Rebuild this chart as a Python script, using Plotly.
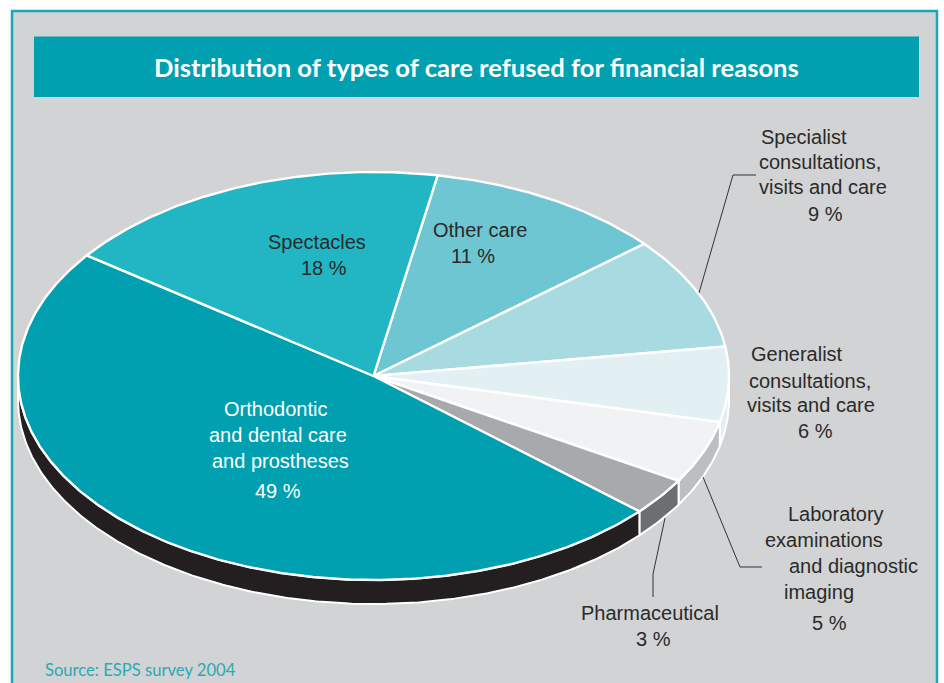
import numpy as np
import plotly.graph_objects as go

# Survey shares, listed clockwise from the "Other care" slice
categories = ["Other care", "Specialist", "Generalist", "Laboratory",
              "Pharmaceutical", "Orthodontic", "Spectacles"]
shares = [11, 9, 6, 5, 3, 49, 18]

top_colors = ["#6EC6D3", "#A8DAE2", "#E2F0F4", "#F1F2F4", "#A7A9AC", "#00A0B0", "#22B5C4"]
side_colors = ["#6EC6D3", "#A8DAE2", "#E2EEF2", "#BCBEC0", "#6D6E71", "#231F20", "#22B5C4"]

# Ellipse geometry of the tilted pie, in pixels
CX, CY, RX, RY = 373.5, 376.0, 355.5, 204.0
DEPTH = 24.0
START_DEG = 79.6
TEAL = "#00A0B0"
INK = "#2B2A29"

fig = go.Figure()


def arc(a0, a1, dy=0.0):
    t = np.radians(np.linspace(a0, a1, max(3, int(abs(a1 - a0) * 2))))
    return CX + RX * np.cos(t), CY - RY * np.sin(t) + dy


def polygon(xs, ys, color, width=2.4):
    fig.add_trace(go.Scatter(
        x=list(xs), y=list(ys), mode="lines", fill="toself", fillcolor=color,
        line=dict(color="white", width=width), hoverinfo="skip", showlegend=False,
    ))


angles = START_DEG - np.cumsum([0] + shares) * 360.0 / sum(shares)

# Side wall: only the part of each slice on the front half of the ellipse shows
for i in range(len(shares)):
    a0, a1 = angles[i], angles[i + 1]
    for lo, hi in ((-180.0, 0.0), (-540.0, -360.0)):
        s0, s1 = min(a0, hi), max(a1, lo)
        if s0 > s1:
            x_up, y_up = arc(s0, s1)
            x_dn, y_dn = arc(s1, s0, DEPTH)
            polygon(np.r_[x_up, x_dn, x_up[0]], np.r_[y_up, y_dn, y_up[0]], side_colors[i], 2.0)

# Top face
for i in range(len(shares)):
    xa, ya = arc(angles[i], angles[i + 1])
    polygon(np.r_[CX, xa, CX], np.r_[CY, ya, CY], top_colors[i])

# Leader lines from the outer labels to their slices
for lx, ly in (([699, 733, 756], [293, 175, 175]),
               ([703, 740, 762], [477, 567, 567]),
               ([665, 653, 653], [518, 574, 597])):
    fig.add_trace(go.Scatter(x=lx, y=ly, mode="lines", line=dict(color="#333333", width=1),
                             hoverinfo="skip", showlegend=False))

# Each text line is placed on its own: the layout has hand-set indents
label_lines = [
    ("Specialist", 761, 137, INK), ("consultations,", 759, 162, INK),
    ("visits and care", 759, 187, INK), ("9 %", 808, 214, INK),
    ("Generalist", 751, 354, INK), ("consultations,", 749, 381, INK),
    ("visits and care", 747, 405, INK), ("6 %", 798, 431, INK),
    ("Laboratory", 788, 514, INK), ("examinations", 765, 540, INK),
    ("and diagnostic", 789, 566, INK), ("imaging", 784, 592, INK), ("5 %", 812, 623, INK),
    ("Pharmaceutical", 581, 613, INK), ("3 %", 636, 639, INK),
    ("Spectacles", 268, 242, INK), ("18 %", 301, 268, INK),
    ("Other care", 433, 230, INK), ("11 %", 451, 256, INK),
    ("Orthodontic", 224, 409, "white"), ("and dental care", 209, 435, "white"),
    ("and prostheses", 212, 461, "white"), ("49 %", 255, 491, "white"),
]
annotations = [
    dict(x=x, y=y, text=t, xref="x", yref="y", xanchor="left", yanchor="middle", showarrow=False,
         xshift=-2, font=dict(family="Liberation Sans", size=20, color=c))
    for t, x, y, c in label_lines
]
annotations.append(dict(
    x=476.5, y=67, text="<b>Distribution of types of care refused for financial reasons</b>",
    xref="x", yref="y", xanchor="center", yanchor="middle", showarrow=False,
    font=dict(family="Lato", size=25.6, color="white")))
annotations.append(dict(
    x=45, y=670, text="Source: ESPS survey 2004", xref="x", yref="y", xanchor="left",
    yanchor="middle", showarrow=False, xshift=-2,
    font=dict(family="Lato", size=16.6, color="#2AA9B6")))

fig.update_layout(
    width=944, height=683, margin=dict(l=0, r=0, t=0, b=0),
    paper_bgcolor="white", plot_bgcolor="white", showlegend=False,
    xaxis=dict(range=[0, 944], visible=False, fixedrange=True),
    yaxis=dict(range=[683, 0], visible=False, fixedrange=True),
    annotations=annotations,
    shapes=[
        dict(type="rect", x0=12, y0=11, x1=937, y1=700, layer="below",
             fillcolor="#D1D3D4", line=dict(color="#1AA7B6", width=2.5)),
        dict(type="rect", x0=34, y0=36.5, x1=919, y1=97, layer="below",
             fillcolor=TEAL, line=dict(width=0)),
    ],
)

fig.write_html("out.html")
